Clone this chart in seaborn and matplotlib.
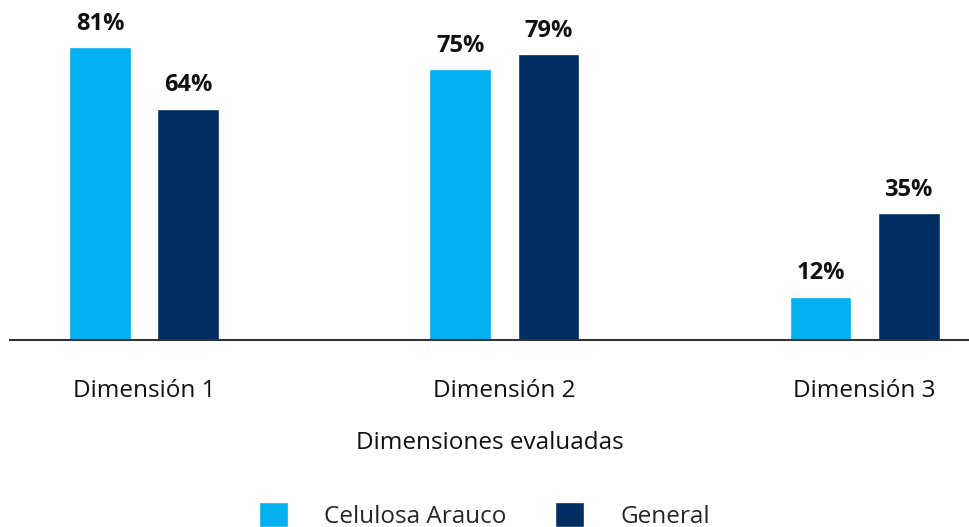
import matplotlib.pyplot as plt
import pandas as pd
import seaborn as sns

# values
dimensions = ["Dimensión 1", "Dimensión 2", "Dimensión 3"]
series_names = ["Celulosa Arauco", "General"]
arauco_pct = [81, 75, 12]
general_pct = [64, 79, 35]

COLORS = ["#00B0F0", "#002D62"]

sns.set_theme(style="white")
plt.rcParams["font.family"] = ["Open Sans", "DejaVu Sans"]

df = pd.DataFrame({
    "Dimensión": dimensions * 2,
    "Serie": [series_names[0]] * 3 + [series_names[1]] * 3,
    "Valor": arauco_pct + general_pct,
})

fig = plt.figure(figsize=(9.69, 5.27), dpi=100)
ax = fig.add_axes([10 / 969, 187 / 527, 959 / 969, 340 / 527])

sns.barplot(
    data=df, x="Dimensión", y="Valor", hue="Serie",
    palette=COLORS, width=0.49, gap=0.3, saturation=1,
    ax=ax, legend=True,
)

for container in ax.containers:
    ax.bar_label(container, fmt="%d%%", padding=8, fontsize=17,
                 fontweight="bold", color="#111111")

ax.set_ylim(0, 94)
ax.set_xlim(-0.372, 2.29)
ax.set_yticks([])
ax.set_ylabel("")
ax.set_xlabel("Dimensiones evaluadas", fontsize=17.5, labelpad=20, color="#111111")
ax.tick_params(axis="x", length=0, pad=28, labelsize=17.5, labelcolor="#111111")

for side in ["top", "right", "left"]:
    ax.spines[side].set_visible(False)
ax.spines["bottom"].set_color("#333333")
ax.spines["bottom"].set_linewidth(1.5)

sns.move_legend(
    ax, "lower center", bbox_to_anchor=(0.5, -0.045), bbox_transform=fig.transFigure,
    ncol=2, frameon=False, title=None, fontsize=17.5,
    handlelength=1.2, handleheight=1.2, handletextpad=1.5, columnspacing=2.0,
)

fig.savefig("out.png", dpi=100)
